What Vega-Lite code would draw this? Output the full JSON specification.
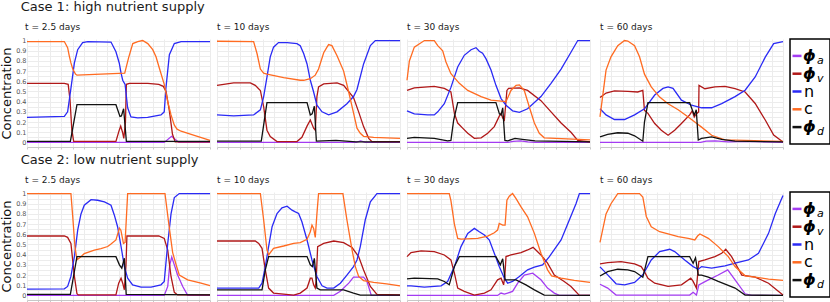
{
"$schema":"https://vega.github.io/schema/vega-lite/v6.json",
"padding":{"left":0,"top":1,"right":0,"bottom":0},
"background":"white",
"config":{"font":"DejaVu Sans","view":{"stroke":null},"title":{"fontWeight":"normal","color":"#1a1a1a"}},
"datasets":{
"leg":[{"s":"a","m":"ϕ","b":"a"},{"s":"v","m":"ϕ","b":"v"},{"s":"n","m":"n","b":""},{"s":"c","m":"c","b":""},{"s":"d","m":"ϕ","b":"d"}],
"d":[
{"p":1,"s":"a","x":0,"y":0},{"p":1,"s":"a","x":75,"y":0},{"p":1,"s":"a","x":79,"y":0.06},{"p":1,"s":"a","x":83,"y":0},{"p":1,"s":"a","x":100,"y":0},
{"p":1,"s":"v","x":0,"y":0.58},{"p":1,"s":"v","x":20.4,"y":0.58},{"p":1,"s":"v","x":22.5,"y":0.57},{"p":1,"s":"v","x":23.5,"y":0.42},{"p":1,"s":"v","x":24.5,"y":0.12},{"p":1,"s":"v","x":25.5,"y":0.01},{"p":1,"s":"v","x":48.6,"y":0.01},{"p":1,"s":"v","x":50.4,"y":0.12},{"p":1,"s":"v","x":51.2,"y":0.16},{"p":1,"s":"v","x":52.2,"y":0.1},{"p":1,"s":"v","x":52.9,"y":0.04},{"p":1,"s":"v","x":53.8,"y":0.2},{"p":1,"s":"v","x":54.3,"y":0.57},{"p":1,"s":"v","x":56,"y":0.58},{"p":1,"s":"v","x":66,"y":0.58},{"p":1,"s":"v","x":72,"y":0.57},{"p":1,"s":"v","x":74.5,"y":0.55},{"p":1,"s":"v","x":76,"y":0.5},{"p":1,"s":"v","x":77.8,"y":0.31},{"p":1,"s":"v","x":79.5,"y":0.08},{"p":1,"s":"v","x":81,"y":0.005},{"p":1,"s":"v","x":100,"y":0.005},
{"p":1,"s":"n","x":0,"y":0.245},{"p":1,"s":"n","x":20.4,"y":0.255},{"p":1,"s":"n","x":22.2,"y":0.3},{"p":1,"s":"n","x":24,"y":0.53},{"p":1,"s":"n","x":25.9,"y":0.78},{"p":1,"s":"n","x":27.7,"y":0.91},{"p":1,"s":"n","x":30.4,"y":0.98},{"p":1,"s":"n","x":33.2,"y":0.99},{"p":1,"s":"n","x":45.9,"y":0.985},{"p":1,"s":"n","x":48.6,"y":0.89},{"p":1,"s":"n","x":50.4,"y":0.78},{"p":1,"s":"n","x":51.4,"y":0.68},{"p":1,"s":"n","x":52.3,"y":0.61},{"p":1,"s":"n","x":53.6,"y":0.57},{"p":1,"s":"n","x":55,"y":0.34},{"p":1,"s":"n","x":56.8,"y":0.25},{"p":1,"s":"n","x":60.5,"y":0.24},{"p":1,"s":"n","x":65.9,"y":0.245},{"p":1,"s":"n","x":73.2,"y":0.27},{"p":1,"s":"n","x":75,"y":0.3},{"p":1,"s":"n","x":75.9,"y":0.53},{"p":1,"s":"n","x":77.8,"y":0.86},{"p":1,"s":"n","x":80.5,"y":0.97},{"p":1,"s":"n","x":84.2,"y":0.99},{"p":1,"s":"n","x":100,"y":0.99},
{"p":1,"s":"c","x":0,"y":0.99},{"p":1,"s":"c","x":20.4,"y":0.99},{"p":1,"s":"c","x":22.2,"y":0.93},{"p":1,"s":"c","x":23.1,"y":0.85},{"p":1,"s":"c","x":24,"y":0.78},{"p":1,"s":"c","x":25,"y":0.72},{"p":1,"s":"c","x":26.5,"y":0.67},{"p":1,"s":"c","x":27.3,"y":0.66},{"p":1,"s":"c","x":53.4,"y":0.68},{"p":1,"s":"c","x":55.5,"y":0.83},{"p":1,"s":"c","x":57.8,"y":0.97},{"p":1,"s":"c","x":60.5,"y":0.99},{"p":1,"s":"c","x":63.2,"y":1},{"p":1,"s":"c","x":66,"y":0.97},{"p":1,"s":"c","x":68.7,"y":0.91},{"p":1,"s":"c","x":70.5,"y":0.84},{"p":1,"s":"c","x":72.3,"y":0.73},{"p":1,"s":"c","x":75,"y":0.57},{"p":1,"s":"c","x":76.9,"y":0.4},{"p":1,"s":"c","x":78.7,"y":0.27},{"p":1,"s":"c","x":80.5,"y":0.17},{"p":1,"s":"c","x":82,"y":0.13},{"p":1,"s":"c","x":84.2,"y":0.11},{"p":1,"s":"c","x":91.4,"y":0.07},{"p":1,"s":"c","x":100,"y":0.02},
{"p":1,"s":"d","x":0,"y":0.01},{"p":1,"s":"d","x":23.7,"y":0.01},{"p":1,"s":"d","x":27.3,"y":0.37},{"p":1,"s":"d","x":48.6,"y":0.37},{"p":1,"s":"d","x":50.8,"y":0.255},{"p":1,"s":"d","x":51.6,"y":0.26},{"p":1,"s":"d","x":52.8,"y":0.33},{"p":1,"s":"d","x":54.3,"y":0.01},{"p":1,"s":"d","x":100,"y":0.01},

{"p":2,"s":"a","x":0,"y":0},{"p":2,"s":"a","x":76,"y":0},{"p":2,"s":"a","x":78.5,"y":0.015},{"p":2,"s":"a","x":81,"y":0},{"p":2,"s":"a","x":100,"y":0},
{"p":2,"s":"v","x":0,"y":0.56},{"p":2,"s":"v","x":9.1,"y":0.585},{"p":2,"s":"v","x":18.2,"y":0.585},{"p":2,"s":"v","x":20.9,"y":0.56},{"p":2,"s":"v","x":23.7,"y":0.51},{"p":2,"s":"v","x":25.5,"y":0.35},{"p":2,"s":"v","x":27.3,"y":0.12},{"p":2,"s":"v","x":29.1,"y":0.057},{"p":2,"s":"v","x":32.8,"y":0.008},{"p":2,"s":"v","x":43.7,"y":0.008},{"p":2,"s":"v","x":46.4,"y":0.05},{"p":2,"s":"v","x":49.2,"y":0.16},{"p":2,"s":"v","x":51,"y":0.22},{"p":2,"s":"v","x":52.8,"y":0.14},{"p":2,"s":"v","x":53.7,"y":0.12},{"p":2,"s":"v","x":54.6,"y":0.45},{"p":2,"s":"v","x":55.5,"y":0.545},{"p":2,"s":"v","x":58.3,"y":0.575},{"p":2,"s":"v","x":65.6,"y":0.585},{"p":2,"s":"v","x":69.2,"y":0.56},{"p":2,"s":"v","x":74.6,"y":0.44},{"p":2,"s":"v","x":77.4,"y":0.3},{"p":2,"s":"v","x":80.1,"y":0.155},{"p":2,"s":"v","x":82.9,"y":0.04},{"p":2,"s":"v","x":84.7,"y":0.008},{"p":2,"s":"v","x":100,"y":0.008},
{"p":2,"s":"n","x":0,"y":0.27},{"p":2,"s":"n","x":9.1,"y":0.26},{"p":2,"s":"n","x":20,"y":0.27},{"p":2,"s":"n","x":23.7,"y":0.32},{"p":2,"s":"n","x":25.5,"y":0.45},{"p":2,"s":"n","x":27.3,"y":0.64},{"p":2,"s":"n","x":29.1,"y":0.84},{"p":2,"s":"n","x":30.9,"y":0.935},{"p":2,"s":"n","x":33.6,"y":0.98},{"p":2,"s":"n","x":38.3,"y":0.98},{"p":2,"s":"n","x":43.7,"y":0.97},{"p":2,"s":"n","x":45.5,"y":0.95},{"p":2,"s":"n","x":47.4,"y":0.87},{"p":2,"s":"n","x":49.2,"y":0.77},{"p":2,"s":"n","x":51,"y":0.61},{"p":2,"s":"n","x":52.8,"y":0.495},{"p":2,"s":"n","x":54.6,"y":0.365},{"p":2,"s":"n","x":57.4,"y":0.3},{"p":2,"s":"n","x":61,"y":0.27},{"p":2,"s":"n","x":65.6,"y":0.3},{"p":2,"s":"n","x":71,"y":0.38},{"p":2,"s":"n","x":74.6,"y":0.45},{"p":2,"s":"n","x":76.5,"y":0.52},{"p":2,"s":"n","x":80.1,"y":0.77},{"p":2,"s":"n","x":83.8,"y":0.95},{"p":2,"s":"n","x":86.5,"y":1},{"p":2,"s":"n","x":100,"y":1},
{"p":2,"s":"c","x":0,"y":0.993},{"p":2,"s":"c","x":20,"y":0.99},{"p":2,"s":"c","x":21.9,"y":0.87},{"p":2,"s":"c","x":23.7,"y":0.72},{"p":2,"s":"c","x":25.5,"y":0.68},{"p":2,"s":"c","x":27.3,"y":0.67},{"p":2,"s":"c","x":36.4,"y":0.635},{"p":2,"s":"c","x":45.5,"y":0.61},{"p":2,"s":"c","x":47.4,"y":0.61},{"p":2,"s":"c","x":51,"y":0.625},{"p":2,"s":"c","x":53.7,"y":0.66},{"p":2,"s":"c","x":55.5,"y":0.72},{"p":2,"s":"c","x":58.3,"y":0.88},{"p":2,"s":"c","x":60.1,"y":0.935},{"p":2,"s":"c","x":61,"y":0.96},{"p":2,"s":"c","x":62.8,"y":0.95},{"p":2,"s":"c","x":65.6,"y":0.85},{"p":2,"s":"c","x":69.2,"y":0.7},{"p":2,"s":"c","x":71.9,"y":0.5},{"p":2,"s":"c","x":74.6,"y":0.29},{"p":2,"s":"c","x":76.5,"y":0.14},{"p":2,"s":"c","x":78.3,"y":0.09},{"p":2,"s":"c","x":80.1,"y":0.06},{"p":2,"s":"c","x":85.6,"y":0.05},{"p":2,"s":"c","x":100,"y":0.04},
{"p":2,"s":"d","x":0,"y":0.012},{"p":2,"s":"d","x":24.2,"y":0.012},{"p":2,"s":"d","x":27.3,"y":0.39},{"p":2,"s":"d","x":49.2,"y":0.39},{"p":2,"s":"d","x":51,"y":0.27},{"p":2,"s":"d","x":52,"y":0.28},{"p":2,"s":"d","x":53.2,"y":0.355},{"p":2,"s":"d","x":54.3,"y":0.012},{"p":2,"s":"d","x":65,"y":0.02},{"p":2,"s":"d","x":76,"y":0.005},{"p":2,"s":"d","x":100,"y":0.005},

{"p":3,"s":"a","x":0,"y":0},{"p":3,"s":"a","x":55,"y":0},{"p":3,"s":"a","x":58,"y":0.01},{"p":3,"s":"a","x":62,"y":0.015},{"p":3,"s":"a","x":66,"y":0.005},{"p":3,"s":"a","x":70,"y":0},{"p":3,"s":"a","x":100,"y":0},
{"p":3,"s":"v","x":0,"y":0.51},{"p":3,"s":"v","x":4,"y":0.535},{"p":3,"s":"v","x":14.9,"y":0.55},{"p":3,"s":"v","x":20.4,"y":0.53},{"p":3,"s":"v","x":24,"y":0.495},{"p":3,"s":"v","x":25.9,"y":0.285},{"p":3,"s":"v","x":27.7,"y":0.19},{"p":3,"s":"v","x":30.4,"y":0.14},{"p":3,"s":"v","x":33.2,"y":0.09},{"p":3,"s":"v","x":36.8,"y":0.04},{"p":3,"s":"v","x":40.5,"y":0.045},{"p":3,"s":"v","x":44.1,"y":0.09},{"p":3,"s":"v","x":47.7,"y":0.155},{"p":3,"s":"v","x":50.5,"y":0.26},{"p":3,"s":"v","x":51.4,"y":0.285},{"p":3,"s":"v","x":52.3,"y":0.24},{"p":3,"s":"v","x":53.2,"y":0.22},{"p":3,"s":"v","x":54.6,"y":0.51},{"p":3,"s":"v","x":55.5,"y":0.53},{"p":3,"s":"v","x":61.4,"y":0.535},{"p":3,"s":"v","x":65.9,"y":0.51},{"p":3,"s":"v","x":73.2,"y":0.41},{"p":3,"s":"v","x":78.7,"y":0.3},{"p":3,"s":"v","x":84.2,"y":0.19},{"p":3,"s":"v","x":89.6,"y":0.1},{"p":3,"s":"v","x":93.3,"y":0.02},{"p":3,"s":"v","x":100,"y":0.005},
{"p":3,"s":"n","x":0,"y":0.31},{"p":3,"s":"n","x":4,"y":0.28},{"p":3,"s":"n","x":11.3,"y":0.27},{"p":3,"s":"n","x":14.9,"y":0.27},{"p":3,"s":"n","x":16.8,"y":0.3},{"p":3,"s":"n","x":20.4,"y":0.38},{"p":3,"s":"n","x":24,"y":0.54},{"p":3,"s":"n","x":27.7,"y":0.74},{"p":3,"s":"n","x":31.3,"y":0.855},{"p":3,"s":"n","x":35,"y":0.91},{"p":3,"s":"n","x":37.7,"y":0.93},{"p":3,"s":"n","x":39.5,"y":0.895},{"p":3,"s":"n","x":41.3,"y":0.875},{"p":3,"s":"n","x":43.2,"y":0.82},{"p":3,"s":"n","x":45.9,"y":0.71},{"p":3,"s":"n","x":48.6,"y":0.56},{"p":3,"s":"n","x":51.4,"y":0.43},{"p":3,"s":"n","x":54.1,"y":0.365},{"p":3,"s":"n","x":57.7,"y":0.31},{"p":3,"s":"n","x":61.4,"y":0.295},{"p":3,"s":"n","x":65.9,"y":0.33},{"p":3,"s":"n","x":73.2,"y":0.45},{"p":3,"s":"n","x":78.7,"y":0.58},{"p":3,"s":"n","x":84.2,"y":0.72},{"p":3,"s":"n","x":89.6,"y":0.885},{"p":3,"s":"n","x":93.3,"y":1},{"p":3,"s":"n","x":100,"y":1},
{"p":3,"s":"c","x":0,"y":0.61},{"p":3,"s":"c","x":1.3,"y":0.8},{"p":3,"s":"c","x":4,"y":0.935},{"p":3,"s":"c","x":9.5,"y":1},{"p":3,"s":"c","x":14.9,"y":1},{"p":3,"s":"c","x":16.8,"y":0.95},{"p":3,"s":"c","x":19.5,"y":0.9},{"p":3,"s":"c","x":21.3,"y":0.79},{"p":3,"s":"c","x":24,"y":0.675},{"p":3,"s":"c","x":28.6,"y":0.58},{"p":3,"s":"c","x":33.2,"y":0.51},{"p":3,"s":"c","x":40.5,"y":0.45},{"p":3,"s":"c","x":45.9,"y":0.415},{"p":3,"s":"c","x":51.4,"y":0.405},{"p":3,"s":"c","x":54.1,"y":0.4},{"p":3,"s":"c","x":56.8,"y":0.51},{"p":3,"s":"c","x":59.6,"y":0.56},{"p":3,"s":"c","x":61.4,"y":0.565},{"p":3,"s":"c","x":64.1,"y":0.51},{"p":3,"s":"c","x":66.8,"y":0.35},{"p":3,"s":"c","x":69.6,"y":0.19},{"p":3,"s":"c","x":72.3,"y":0.09},{"p":3,"s":"c","x":75,"y":0.045},{"p":3,"s":"c","x":100,"y":0.025},
{"p":3,"s":"d","x":0,"y":0.04},{"p":3,"s":"d","x":4,"y":0.05},{"p":3,"s":"d","x":14.9,"y":0.04},{"p":3,"s":"d","x":22.2,"y":0.015},{"p":3,"s":"d","x":24,"y":0.02},{"p":3,"s":"d","x":25.5,"y":0.22},{"p":3,"s":"d","x":27.7,"y":0.39},{"p":3,"s":"d","x":48.6,"y":0.39},{"p":3,"s":"d","x":50.5,"y":0.28},{"p":3,"s":"d","x":51.4,"y":0.27},{"p":3,"s":"d","x":52.3,"y":0.34},{"p":3,"s":"d","x":53.5,"y":0.02},{"p":3,"s":"d","x":55,"y":0.015},{"p":3,"s":"d","x":59,"y":0.04},{"p":3,"s":"d","x":63,"y":0.03},{"p":3,"s":"d","x":70,"y":0.015},{"p":3,"s":"d","x":100,"y":0.005},

{"p":4,"s":"a","x":0,"y":0},{"p":4,"s":"a","x":55,"y":0},{"p":4,"s":"a","x":58,"y":0.012},{"p":4,"s":"a","x":63,"y":0.015},{"p":4,"s":"a","x":70,"y":0.005},{"p":4,"s":"a","x":80,"y":0.01},{"p":4,"s":"a","x":100,"y":0},
{"p":4,"s":"v","x":0,"y":0.44},{"p":4,"s":"v","x":3.3,"y":0.485},{"p":4,"s":"v","x":7.9,"y":0.505},{"p":4,"s":"v","x":15.2,"y":0.5},{"p":4,"s":"v","x":20.6,"y":0.495},{"p":4,"s":"v","x":23.4,"y":0.51},{"p":4,"s":"v","x":24.3,"y":0.315},{"p":4,"s":"v","x":26.2,"y":0.285},{"p":4,"s":"v","x":29.9,"y":0.185},{"p":4,"s":"v","x":33.5,"y":0.12},{"p":4,"s":"v","x":37.2,"y":0.07},{"p":4,"s":"v","x":40.8,"y":0.12},{"p":4,"s":"v","x":44.5,"y":0.185},{"p":4,"s":"v","x":49,"y":0.27},{"p":4,"s":"v","x":50.4,"y":0.31},{"p":4,"s":"v","x":51.5,"y":0.25},{"p":4,"s":"v","x":52.6,"y":0.28},{"p":4,"s":"v","x":53.9,"y":0.3},{"p":4,"s":"v","x":54.1,"y":0.56},{"p":4,"s":"v","x":57.3,"y":0.527},{"p":4,"s":"v","x":62.8,"y":0.545},{"p":4,"s":"v","x":68.3,"y":0.55},{"p":4,"s":"v","x":73.8,"y":0.527},{"p":4,"s":"v","x":79.3,"y":0.495},{"p":4,"s":"v","x":84.8,"y":0.382},{"p":4,"s":"v","x":90.3,"y":0.22},{"p":4,"s":"v","x":94.9,"y":0.073},{"p":4,"s":"v","x":100,"y":0.005},
{"p":4,"s":"n","x":0,"y":0.33},{"p":4,"s":"n","x":3.3,"y":0.27},{"p":4,"s":"n","x":7.9,"y":0.225},{"p":4,"s":"n","x":13.4,"y":0.225},{"p":4,"s":"n","x":18.9,"y":0.27},{"p":4,"s":"n","x":24.3,"y":0.33},{"p":4,"s":"n","x":29.9,"y":0.465},{"p":4,"s":"n","x":34.4,"y":0.53},{"p":4,"s":"n","x":37.2,"y":0.545},{"p":4,"s":"n","x":39.9,"y":0.53},{"p":4,"s":"n","x":44.5,"y":0.415},{"p":4,"s":"n","x":50,"y":0.365},{"p":4,"s":"n","x":55.5,"y":0.34},{"p":4,"s":"n","x":61,"y":0.34},{"p":4,"s":"n","x":66.5,"y":0.38},{"p":4,"s":"n","x":73.8,"y":0.45},{"p":4,"s":"n","x":79.3,"y":0.512},{"p":4,"s":"n","x":84.8,"y":0.642},{"p":4,"s":"n","x":90.3,"y":0.837},{"p":4,"s":"n","x":94.9,"y":0.97},{"p":4,"s":"n","x":100,"y":0.99},
{"p":4,"s":"c","x":0,"y":0.25},{"p":4,"s":"c","x":3.3,"y":0.71},{"p":4,"s":"c","x":6,"y":0.84},{"p":4,"s":"c","x":9.7,"y":0.95},{"p":4,"s":"c","x":13.4,"y":1},{"p":4,"s":"c","x":15.2,"y":0.995},{"p":4,"s":"c","x":18.9,"y":0.95},{"p":4,"s":"c","x":21.6,"y":0.84},{"p":4,"s":"c","x":24.3,"y":0.67},{"p":4,"s":"c","x":28,"y":0.545},{"p":4,"s":"c","x":32.6,"y":0.445},{"p":4,"s":"c","x":37.2,"y":0.38},{"p":4,"s":"c","x":42.7,"y":0.32},{"p":4,"s":"c","x":48.2,"y":0.25},{"p":4,"s":"c","x":51.8,"y":0.2},{"p":4,"s":"c","x":55.5,"y":0.15},{"p":4,"s":"c","x":61,"y":0.07},{"p":4,"s":"c","x":68.3,"y":0.025},{"p":4,"s":"c","x":100,"y":0.01},
{"p":4,"s":"d","x":0,"y":0.055},{"p":4,"s":"d","x":4.2,"y":0.08},{"p":4,"s":"d","x":9.7,"y":0.095},{"p":4,"s":"d","x":15.2,"y":0.09},{"p":4,"s":"d","x":18.9,"y":0.065},{"p":4,"s":"d","x":23.4,"y":0.012},{"p":4,"s":"d","x":24.3,"y":0.2},{"p":4,"s":"d","x":26.2,"y":0.39},{"p":4,"s":"d","x":49,"y":0.39},{"p":4,"s":"d","x":50.4,"y":0.32},{"p":4,"s":"d","x":51.5,"y":0.27},{"p":4,"s":"d","x":52.6,"y":0.32},{"p":4,"s":"d","x":53.7,"y":0.024},{"p":4,"s":"d","x":55.5,"y":0.04},{"p":4,"s":"d","x":61,"y":0.055},{"p":4,"s":"d","x":66.5,"y":0.03},{"p":4,"s":"d","x":73.8,"y":0.012},{"p":4,"s":"d","x":100,"y":0.005},

{"p":5,"s":"a","x":0,"y":0},{"p":5,"s":"a","x":75,"y":0},{"p":5,"s":"a","x":76.9,"y":0.088},{"p":5,"s":"a","x":78,"y":0.3},{"p":5,"s":"a","x":79.1,"y":0.376},{"p":5,"s":"a","x":80.5,"y":0.3},{"p":5,"s":"a","x":82.3,"y":0.2},{"p":5,"s":"a","x":85.1,"y":0.088},{"p":5,"s":"a","x":87.8,"y":0},{"p":5,"s":"a","x":100,"y":0},
{"p":5,"s":"v","x":0,"y":0.583},{"p":5,"s":"v","x":20.4,"y":0.583},{"p":5,"s":"v","x":22.2,"y":0.57},{"p":5,"s":"v","x":24,"y":0.51},{"p":5,"s":"v","x":25.9,"y":0.186},{"p":5,"s":"v","x":27.3,"y":0.016},{"p":5,"s":"v","x":28,"y":0.005},{"p":5,"s":"v","x":48.6,"y":0.005},{"p":5,"s":"v","x":50.1,"y":0.12},{"p":5,"s":"v","x":51.4,"y":0.169},{"p":5,"s":"v","x":52.3,"y":0.12},{"p":5,"s":"v","x":53.2,"y":0.055},{"p":5,"s":"v","x":54.1,"y":0.3},{"p":5,"s":"v","x":54.6,"y":0.583},{"p":5,"s":"v","x":72,"y":0.583},{"p":5,"s":"v","x":75,"y":0.56},{"p":5,"s":"v","x":76.9,"y":0.445},{"p":5,"s":"v","x":78.7,"y":0.186},{"p":5,"s":"v","x":80.5,"y":0.03},{"p":5,"s":"v","x":82.3,"y":0.005},{"p":5,"s":"v","x":100,"y":0.005},
{"p":5,"s":"n","x":0,"y":0.062},{"p":5,"s":"n","x":20.4,"y":0.065},{"p":5,"s":"n","x":22.2,"y":0.088},{"p":5,"s":"n","x":24,"y":0.186},{"p":5,"s":"n","x":25.9,"y":0.38},{"p":5,"s":"n","x":27.7,"y":0.64},{"p":5,"s":"n","x":29.5,"y":0.8},{"p":5,"s":"n","x":31.3,"y":0.885},{"p":5,"s":"n","x":35,"y":0.94},{"p":5,"s":"n","x":38.6,"y":0.934},{"p":5,"s":"n","x":42.3,"y":0.918},{"p":5,"s":"n","x":45.9,"y":0.885},{"p":5,"s":"n","x":47.7,"y":0.79},{"p":5,"s":"n","x":49.5,"y":0.674},{"p":5,"s":"n","x":51.4,"y":0.48},{"p":5,"s":"n","x":53.2,"y":0.283},{"p":5,"s":"n","x":55,"y":0.169},{"p":5,"s":"n","x":57.7,"y":0.104},{"p":5,"s":"n","x":62.3,"y":0.081},{"p":5,"s":"n","x":67.8,"y":0.081},{"p":5,"s":"n","x":73.2,"y":0.104},{"p":5,"s":"n","x":75,"y":0.137},{"p":5,"s":"n","x":76.9,"y":0.51},{"p":5,"s":"n","x":78.7,"y":0.8},{"p":5,"s":"n","x":80.5,"y":0.96},{"p":5,"s":"n","x":83.2,"y":1},{"p":5,"s":"n","x":100,"y":1},
{"p":5,"s":"c","x":0,"y":1},{"p":5,"s":"c","x":24,"y":1},{"p":5,"s":"c","x":25,"y":0.77},{"p":5,"s":"c","x":26.2,"y":0.48},{"p":5,"s":"c","x":27.3,"y":0.35},{"p":5,"s":"c","x":29.5,"y":0.38},{"p":5,"s":"c","x":31.3,"y":0.41},{"p":5,"s":"c","x":36.8,"y":0.445},{"p":5,"s":"c","x":40.4,"y":0.46},{"p":5,"s":"c","x":44.1,"y":0.48},{"p":5,"s":"c","x":45.9,"y":0.505},{"p":5,"s":"c","x":48.6,"y":0.545},{"p":5,"s":"c","x":50.5,"y":0.66},{"p":5,"s":"c","x":51.3,"y":0.64},{"p":5,"s":"c","x":52.7,"y":0.51},{"p":5,"s":"c","x":53.6,"y":0.52},{"p":5,"s":"c","x":55,"y":1},{"p":5,"s":"c","x":75.4,"y":1},{"p":5,"s":"c","x":77.5,"y":0.7},{"p":5,"s":"c","x":79.6,"y":0.42},{"p":5,"s":"c","x":81.5,"y":0.3},{"p":5,"s":"c","x":83.2,"y":0.2},{"p":5,"s":"c","x":87.8,"y":0.153},{"p":5,"s":"c","x":95.1,"y":0.12},{"p":5,"s":"c","x":100,"y":0.095},
{"p":5,"s":"d","x":0,"y":0.01},{"p":5,"s":"d","x":23.7,"y":0.01},{"p":5,"s":"d","x":27.3,"y":0.38},{"p":5,"s":"d","x":48.6,"y":0.38},{"p":5,"s":"d","x":50.5,"y":0.3},{"p":5,"s":"d","x":51.8,"y":0.267},{"p":5,"s":"d","x":53.2,"y":0.365},{"p":5,"s":"d","x":54.2,"y":0.01},{"p":5,"s":"d","x":100,"y":0.005},

{"p":6,"s":"a","x":0,"y":0},{"p":6,"s":"a","x":63.8,"y":0},{"p":6,"s":"a","x":67.4,"y":0.04},{"p":6,"s":"a","x":72,"y":0.12},{"p":6,"s":"a","x":74.6,"y":0.18},{"p":6,"s":"a","x":80.1,"y":0.18},{"p":6,"s":"a","x":82,"y":0.137},{"p":6,"s":"a","x":84.3,"y":0},{"p":6,"s":"a","x":100,"y":0},
{"p":6,"s":"v","x":0,"y":0.534},{"p":6,"s":"v","x":20.9,"y":0.534},{"p":6,"s":"v","x":22.8,"y":0.511},{"p":6,"s":"v","x":24.6,"y":0.462},{"p":6,"s":"v","x":26.4,"y":0.25},{"p":6,"s":"v","x":28.2,"y":0.072},{"p":6,"s":"v","x":30.9,"y":0.023},{"p":6,"s":"v","x":41.9,"y":0.003},{"p":6,"s":"v","x":45.5,"y":0.023},{"p":6,"s":"v","x":49.2,"y":0.072},{"p":6,"s":"v","x":51,"y":0.169},{"p":6,"s":"v","x":51.9,"y":0.169},{"p":6,"s":"v","x":52.8,"y":0.104},{"p":6,"s":"v","x":53.7,"y":0.072},{"p":6,"s":"v","x":54.2,"y":0.15},{"p":6,"s":"v","x":55,"y":0.479},{"p":6,"s":"v","x":58.3,"y":0.511},{"p":6,"s":"v","x":63.8,"y":0.534},{"p":6,"s":"v","x":69.2,"y":0.518},{"p":6,"s":"v","x":73.8,"y":0.47},{"p":6,"s":"v","x":77.4,"y":0.381},{"p":6,"s":"v","x":80.1,"y":0.25},{"p":6,"s":"v","x":83.8,"y":0.088},{"p":6,"s":"v","x":87.4,"y":0.01},{"p":6,"s":"v","x":100,"y":0.005},
{"p":6,"s":"n","x":0,"y":0.072},{"p":6,"s":"n","x":22.8,"y":0.072},{"p":6,"s":"n","x":24.6,"y":0.12},{"p":6,"s":"n","x":26.4,"y":0.283},{"p":6,"s":"n","x":28.2,"y":0.479},{"p":6,"s":"n","x":30.1,"y":0.674},{"p":6,"s":"n","x":32.8,"y":0.804},{"p":6,"s":"n","x":35.5,"y":0.86},{"p":6,"s":"n","x":38.3,"y":0.876},{"p":6,"s":"n","x":41,"y":0.837},{"p":6,"s":"n","x":42.8,"y":0.82},{"p":6,"s":"n","x":44.6,"y":0.804},{"p":6,"s":"n","x":46.4,"y":0.723},{"p":6,"s":"n","x":49.2,"y":0.544},{"p":6,"s":"n","x":51.9,"y":0.348},{"p":6,"s":"n","x":54.6,"y":0.186},{"p":6,"s":"n","x":57.4,"y":0.094},{"p":6,"s":"n","x":60.1,"y":0.072},{"p":6,"s":"n","x":63.8,"y":0.072},{"p":6,"s":"n","x":67.4,"y":0.12},{"p":6,"s":"n","x":71,"y":0.2},{"p":6,"s":"n","x":74.6,"y":0.283},{"p":6,"s":"n","x":76.5,"y":0.348},{"p":6,"s":"n","x":78.3,"y":0.479},{"p":6,"s":"n","x":81,"y":0.74},{"p":6,"s":"n","x":83.8,"y":0.918},{"p":6,"s":"n","x":87.4,"y":1},{"p":6,"s":"n","x":100,"y":1},
{"p":6,"s":"c","x":0,"y":1},{"p":6,"s":"c","x":23.7,"y":1},{"p":6,"s":"c","x":25.5,"y":0.74},{"p":6,"s":"c","x":27.3,"y":0.446},{"p":6,"s":"c","x":28.2,"y":0.397},{"p":6,"s":"c","x":30.9,"y":0.462},{"p":6,"s":"c","x":36.4,"y":0.485},{"p":6,"s":"c","x":41.9,"y":0.511},{"p":6,"s":"c","x":45.5,"y":0.518},{"p":6,"s":"c","x":49.2,"y":0.55},{"p":6,"s":"c","x":51,"y":0.625},{"p":6,"s":"c","x":51.9,"y":0.69},{"p":6,"s":"c","x":52.8,"y":0.658},{"p":6,"s":"c","x":53.7,"y":0.57},{"p":6,"s":"c","x":54.6,"y":0.8},{"p":6,"s":"c","x":55.5,"y":1},{"p":6,"s":"c","x":68.8,"y":1},{"p":6,"s":"c","x":71,"y":0.74},{"p":6,"s":"c","x":73.8,"y":0.446},{"p":6,"s":"c","x":75.6,"y":0.283},{"p":6,"s":"c","x":77.4,"y":0.186},{"p":6,"s":"c","x":80.1,"y":0.146},{"p":6,"s":"c","x":85.6,"y":0.127},{"p":6,"s":"c","x":92.7,"y":0.114},{"p":6,"s":"c","x":100,"y":0.094},
{"p":6,"s":"d","x":0,"y":0.055},{"p":6,"s":"d","x":24.6,"y":0.055},{"p":6,"s":"d","x":26.4,"y":0.25},{"p":6,"s":"d","x":28.2,"y":0.381},{"p":6,"s":"d","x":49.2,"y":0.381},{"p":6,"s":"d","x":51,"y":0.3},{"p":6,"s":"d","x":52.1,"y":0.283},{"p":6,"s":"d","x":53.2,"y":0.363},{"p":6,"s":"d","x":54.6,"y":0.072},{"p":6,"s":"d","x":56.4,"y":0.055},{"p":6,"s":"d","x":69.2,"y":0.055},{"p":6,"s":"d","x":74.6,"y":0.023},{"p":6,"s":"d","x":78.3,"y":0.003},{"p":6,"s":"d","x":100,"y":0.003},

{"p":7,"s":"a","x":0,"y":0},{"p":7,"s":"a","x":49.5,"y":0},{"p":7,"s":"a","x":51.4,"y":0.023},{"p":7,"s":"a","x":53.2,"y":0.013},{"p":7,"s":"a","x":55,"y":0.023},{"p":7,"s":"a","x":57.7,"y":0.039},{"p":7,"s":"a","x":60.5,"y":0.12},{"p":7,"s":"a","x":64.1,"y":0.2},{"p":7,"s":"a","x":68.7,"y":0.218},{"p":7,"s":"a","x":73.2,"y":0.153},{"p":7,"s":"a","x":76.8,"y":0.072},{"p":7,"s":"a","x":80.5,"y":0.023},{"p":7,"s":"a","x":83.2,"y":0},{"p":7,"s":"a","x":100,"y":0},
{"p":7,"s":"v","x":0,"y":0.381},{"p":7,"s":"v","x":2.2,"y":0.42},{"p":7,"s":"v","x":7.7,"y":0.437},{"p":7,"s":"v","x":14.9,"y":0.43},{"p":7,"s":"v","x":20.4,"y":0.397},{"p":7,"s":"v","x":24,"y":0.348},{"p":7,"s":"v","x":25.9,"y":0.218},{"p":7,"s":"v","x":27.7,"y":0.072},{"p":7,"s":"v","x":31.3,"y":0.039},{"p":7,"s":"v","x":36.8,"y":0.003},{"p":7,"s":"v","x":42.3,"y":0.023},{"p":7,"s":"v","x":45.9,"y":0.055},{"p":7,"s":"v","x":49.5,"y":0.153},{"p":7,"s":"v","x":51.4,"y":0.169},{"p":7,"s":"v","x":52.8,"y":0.104},{"p":7,"s":"v","x":53.5,"y":0.2},{"p":7,"s":"v","x":54.1,"y":0.381},{"p":7,"s":"v","x":56.8,"y":0.397},{"p":7,"s":"v","x":62.3,"y":0.42},{"p":7,"s":"v","x":65.9,"y":0.446},{"p":7,"s":"v","x":68.9,"y":0.472},{"p":7,"s":"v","x":73.2,"y":0.397},{"p":7,"s":"v","x":76.8,"y":0.316},{"p":7,"s":"v","x":80.5,"y":0.2},{"p":7,"s":"v","x":85.9,"y":0.137},{"p":7,"s":"v","x":89.6,"y":0.088},{"p":7,"s":"v","x":94.2,"y":0},{"p":7,"s":"v","x":100,"y":0},
{"p":7,"s":"n","x":0,"y":0.094},{"p":7,"s":"n","x":2.2,"y":0.094},{"p":7,"s":"n","x":9.5,"y":0.081},{"p":7,"s":"n","x":18.6,"y":0.094},{"p":7,"s":"n","x":22.2,"y":0.137},{"p":7,"s":"n","x":25.9,"y":0.283},{"p":7,"s":"n","x":29.5,"y":0.479},{"p":7,"s":"n","x":33.2,"y":0.609},{"p":7,"s":"n","x":36.8,"y":0.658},{"p":7,"s":"n","x":39.5,"y":0.625},{"p":7,"s":"n","x":42.3,"y":0.593},{"p":7,"s":"n","x":45,"y":0.544},{"p":7,"s":"n","x":47.7,"y":0.414},{"p":7,"s":"n","x":50.4,"y":0.283},{"p":7,"s":"n","x":53.2,"y":0.169},{"p":7,"s":"n","x":55,"y":0.12},{"p":7,"s":"n","x":57.7,"y":0.137},{"p":7,"s":"n","x":61.4,"y":0.186},{"p":7,"s":"n","x":65.9,"y":0.251},{"p":7,"s":"n","x":69.6,"y":0.277},{"p":7,"s":"n","x":74.1,"y":0.3},{"p":7,"s":"n","x":77.8,"y":0.381},{"p":7,"s":"n","x":84.2,"y":0.544},{"p":7,"s":"n","x":88.7,"y":0.74},{"p":7,"s":"n","x":92.4,"y":0.902},{"p":7,"s":"n","x":94.2,"y":1},{"p":7,"s":"n","x":100,"y":1},
{"p":7,"s":"c","x":0,"y":1},{"p":7,"s":"c","x":23.1,"y":1},{"p":7,"s":"c","x":24,"y":0.93},{"p":7,"s":"c","x":25.9,"y":0.7},{"p":7,"s":"c","x":27.7,"y":0.56},{"p":7,"s":"c","x":29.5,"y":0.553},{"p":7,"s":"c","x":38.6,"y":0.56},{"p":7,"s":"c","x":44.1,"y":0.583},{"p":7,"s":"c","x":47.7,"y":0.615},{"p":7,"s":"c","x":49.5,"y":0.641},{"p":7,"s":"c","x":50.4,"y":0.706},{"p":7,"s":"c","x":52.3,"y":0.69},{"p":7,"s":"c","x":53.6,"y":0.69},{"p":7,"s":"c","x":54.6,"y":0.934},{"p":7,"s":"c","x":55.9,"y":0.973},{"p":7,"s":"c","x":57.7,"y":1},{"p":7,"s":"c","x":59.6,"y":0.95},{"p":7,"s":"c","x":62.3,"y":0.869},{"p":7,"s":"c","x":65.9,"y":0.771},{"p":7,"s":"c","x":69.6,"y":0.609},{"p":7,"s":"c","x":73.2,"y":0.414},{"p":7,"s":"c","x":76.8,"y":0.251},{"p":7,"s":"c","x":79,"y":0.192},{"p":7,"s":"c","x":84.2,"y":0.169},{"p":7,"s":"c","x":91.4,"y":0.147},{"p":7,"s":"c","x":100,"y":0.127},
{"p":7,"s":"d","x":0,"y":0.163},{"p":7,"s":"d","x":4,"y":0.169},{"p":7,"s":"d","x":16.8,"y":0.163},{"p":7,"s":"d","x":20.4,"y":0.137},{"p":7,"s":"d","x":23.1,"y":0.104},{"p":7,"s":"d","x":25.9,"y":0.283},{"p":7,"s":"d","x":28.6,"y":0.381},{"p":7,"s":"d","x":48.6,"y":0.381},{"p":7,"s":"d","x":51,"y":0.3},{"p":7,"s":"d","x":52.3,"y":0.36},{"p":7,"s":"d","x":53.6,"y":0.153},{"p":7,"s":"d","x":59.6,"y":0.153},{"p":7,"s":"d","x":65,"y":0.104},{"p":7,"s":"d","x":69.6,"y":0.055},{"p":7,"s":"d","x":75,"y":0.003},{"p":7,"s":"d","x":100,"y":0},

{"p":8,"s":"a","x":0,"y":0.11},{"p":8,"s":"a","x":4.2,"y":0.072},{"p":8,"s":"a","x":8.8,"y":0.003},{"p":8,"s":"a","x":49,"y":0.003},{"p":8,"s":"a","x":50.9,"y":0.03},{"p":8,"s":"a","x":52.7,"y":0.003},{"p":8,"s":"a","x":54,"y":0.104},{"p":8,"s":"a","x":59.2,"y":0.153},{"p":8,"s":"a","x":64.6,"y":0.2},{"p":8,"s":"a","x":69.8,"y":0.251},{"p":8,"s":"a","x":73.8,"y":0.153},{"p":8,"s":"a","x":79.3,"y":0.016},{"p":8,"s":"a","x":82.9,"y":0},{"p":8,"s":"a","x":100,"y":0},
{"p":8,"s":"v","x":0,"y":0.31},{"p":8,"s":"v","x":4.2,"y":0.322},{"p":8,"s":"v","x":11.5,"y":0.332},{"p":8,"s":"v","x":18.9,"y":0.309},{"p":8,"s":"v","x":22.5,"y":0.283},{"p":8,"s":"v","x":24.3,"y":0.234},{"p":8,"s":"v","x":26.2,"y":0.169},{"p":8,"s":"v","x":29.9,"y":0.12},{"p":8,"s":"v","x":37.2,"y":0.088},{"p":8,"s":"v","x":44.5,"y":0.104},{"p":8,"s":"v","x":49.6,"y":0.169},{"p":8,"s":"v","x":50.9,"y":0.137},{"p":8,"s":"v","x":52.7,"y":0.072},{"p":8,"s":"v","x":54,"y":0.332},{"p":8,"s":"v","x":57.3,"y":0.348},{"p":8,"s":"v","x":62.8,"y":0.381},{"p":8,"s":"v","x":66.5,"y":0.413},{"p":8,"s":"v","x":68.7,"y":0.453},{"p":8,"s":"v","x":71.9,"y":0.381},{"p":8,"s":"v","x":77.5,"y":0.2},{"p":8,"s":"v","x":84.8,"y":0.179},{"p":8,"s":"v","x":92.1,"y":0.12},{"p":8,"s":"v","x":97.6,"y":0.039},{"p":8,"s":"v","x":100,"y":0.005},
{"p":8,"s":"n","x":0,"y":0.28},{"p":8,"s":"n","x":4.2,"y":0.202},{"p":8,"s":"n","x":8.8,"y":0.114},{"p":8,"s":"n","x":13.4,"y":0.104},{"p":8,"s":"n","x":18.9,"y":0.127},{"p":8,"s":"n","x":23.4,"y":0.202},{"p":8,"s":"n","x":28,"y":0.348},{"p":8,"s":"n","x":32.6,"y":0.43},{"p":8,"s":"n","x":38.1,"y":0.453},{"p":8,"s":"n","x":40.8,"y":0.43},{"p":8,"s":"n","x":46.3,"y":0.348},{"p":8,"s":"n","x":50.9,"y":0.283},{"p":8,"s":"n","x":53.7,"y":0.257},{"p":8,"s":"n","x":55.5,"y":0.283},{"p":8,"s":"n","x":61,"y":0.267},{"p":8,"s":"n","x":68.3,"y":0.29},{"p":8,"s":"n","x":73.8,"y":0.316},{"p":8,"s":"n","x":81.1,"y":0.348},{"p":8,"s":"n","x":86.6,"y":0.413},{"p":8,"s":"n","x":92.1,"y":0.609},{"p":8,"s":"n","x":95.8,"y":0.804},{"p":8,"s":"n","x":100,"y":0.98},
{"p":8,"s":"c","x":0,"y":0.52},{"p":8,"s":"c","x":3.3,"y":0.8},{"p":8,"s":"c","x":6,"y":0.9},{"p":8,"s":"c","x":9.7,"y":1},{"p":8,"s":"c","x":21.6,"y":1},{"p":8,"s":"c","x":23.4,"y":0.966},{"p":8,"s":"c","x":25.3,"y":0.775},{"p":8,"s":"c","x":28,"y":0.674},{"p":8,"s":"c","x":32.6,"y":0.625},{"p":8,"s":"c","x":37.2,"y":0.603},{"p":8,"s":"c","x":42.7,"y":0.576},{"p":8,"s":"c","x":48.2,"y":0.56},{"p":8,"s":"c","x":51.8,"y":0.544},{"p":8,"s":"c","x":53.3,"y":0.583},{"p":8,"s":"c","x":54.6,"y":0.603},{"p":8,"s":"c","x":59.2,"y":0.56},{"p":8,"s":"c","x":64.6,"y":0.479},{"p":8,"s":"c","x":70.1,"y":0.381},{"p":8,"s":"c","x":73.8,"y":0.283},{"p":8,"s":"c","x":79.3,"y":0.192},{"p":8,"s":"c","x":84.8,"y":0.179},{"p":8,"s":"c","x":92.1,"y":0.16},{"p":8,"s":"c","x":100,"y":0.147},
{"p":8,"s":"d","x":0,"y":0.19},{"p":8,"s":"d","x":4.2,"y":0.234},{"p":8,"s":"d","x":9.7,"y":0.257},{"p":8,"s":"d","x":15.2,"y":0.251},{"p":8,"s":"d","x":18.9,"y":0.234},{"p":8,"s":"d","x":23.4,"y":0.179},{"p":8,"s":"d","x":26.2,"y":0.381},{"p":8,"s":"d","x":49,"y":0.381},{"p":8,"s":"d","x":50.9,"y":0.316},{"p":8,"s":"d","x":52.2,"y":0.37},{"p":8,"s":"d","x":53.7,"y":0.2},{"p":8,"s":"d","x":55.5,"y":0.2},{"p":8,"s":"d","x":59.2,"y":0.179},{"p":8,"s":"d","x":64.6,"y":0.137},{"p":8,"s":"d","x":73.8,"y":0.072},{"p":8,"s":"d","x":79.3,"y":0.003},{"p":8,"s":"d","x":100,"y":0}
]},
"spacing":4,
"vconcat":[
{"title":{"text":"Case 1: high nutrient supply","anchor":"start","fontSize":13,"offset":9,"frame":"bounds","dx":20},
 "spacing":0,
 "hconcat":[
  {"spacing":4,"hconcat":[
   {"spacing":1,"hconcat":[
    {"width":183,"height":108,"title":{"text":"t = 2.5 days","anchor":"start","frame":"group","fontSize":9,"offset":5.5,"dx":-2},
     "data":{"name":"d"},"transform":[{"filter":"datum.p == 1"}],
     "mark":{"type":"line","strokeWidth":1.3},
     "encoding":{
      "x":{"field":"x","type":"quantitative","scale":{"domain":[0,100]},"axis":{"title":null,"labels":false,"tickSize":2,"tickColor":"#c8c8c8","domainColor":"#c8c8c8","gridColor":"#ececec","minExtent":0,"maxExtent":3,"values":[0,6.25,12.5,18.75,25,31.25,37.5,43.75,50,56.25,62.5,68.75,75,81.25,87.5,93.75,100]}},
      "y":{"field":"y","type":"quantitative","scale":{"domain":[-0.045,1.015],"nice":false,"zero":false},"axis":{"title":"Concentration","titleFontSize":13,"titleFontWeight":"normal","titleColor":"#111","titlePadding":2,"labelFontSize":6.5,"labelColor":"#555","labelPadding":1,"labelOverlap":false,"labelFlush":false,"ticks":false,"domain":false,"gridColor":"#ececec","values":[0,0.05,0.1,0.15,0.2,0.25,0.3,0.35,0.4,0.45,0.5,0.55,0.6,0.65,0.7,0.75,0.8,0.85,0.9,0.95,1],"labelExpr":"round(datum.value*100) % 10 == 0 ? format(datum.value, '.1~f') : ''"}},
      "color":{"field":"s","type":"nominal","scale":{"domain":["a","v","n","c","d"],"range":["#a43cf2","#b01818","#2a2af5","#ff6b21","#111111"]},"legend":null}}},
    {"width":183,"height":108,"title":{"text":"t = 10 days","anchor":"start","frame":"group","fontSize":9,"offset":5.5},
     "data":{"name":"d"},"transform":[{"filter":"datum.p == 2"}],
     "mark":{"type":"line","strokeWidth":1.3},
     "encoding":{
      "x":{"field":"x","type":"quantitative","scale":{"domain":[0,100]},"axis":{"title":null,"labels":false,"tickSize":2,"tickColor":"#c8c8c8","domainColor":"#c8c8c8","gridColor":"#ececec","minExtent":0,"maxExtent":3,"values":[0,6.25,12.5,18.75,25,31.25,37.5,43.75,50,56.25,62.5,68.75,75,81.25,87.5,93.75,100]}},
      "y":{"field":"y","type":"quantitative","scale":{"domain":[-0.045,1.015],"nice":false,"zero":false},"axis":{"title":null,"labels":false,"ticks":false,"domain":false,"minExtent":0,"maxExtent":0,"gridColor":"#ececec","values":[0,0.05,0.1,0.15,0.2,0.25,0.3,0.35,0.4,0.45,0.5,0.55,0.6,0.65,0.7,0.75,0.8,0.85,0.9,0.95,1]}},
      "color":{"field":"s","type":"nominal","scale":{"domain":["a","v","n","c","d"],"range":["#a43cf2","#b01818","#2a2af5","#ff6b21","#111111"]},"legend":null}}},
    {"width":183,"height":108,"title":{"text":"t = 30 days","anchor":"start","frame":"group","fontSize":9,"offset":5.5},
     "data":{"name":"d"},"transform":[{"filter":"datum.p == 3"}],
     "mark":{"type":"line","strokeWidth":1.3},
     "encoding":{
      "x":{"field":"x","type":"quantitative","scale":{"domain":[0,100]},"axis":{"title":null,"labels":false,"tickSize":2,"tickColor":"#c8c8c8","domainColor":"#c8c8c8","gridColor":"#ececec","minExtent":0,"maxExtent":3,"values":[0,6.25,12.5,18.75,25,31.25,37.5,43.75,50,56.25,62.5,68.75,75,81.25,87.5,93.75,100]}},
      "y":{"field":"y","type":"quantitative","scale":{"domain":[-0.045,1.015],"nice":false,"zero":false},"axis":{"title":null,"labels":false,"ticks":false,"domain":false,"minExtent":0,"maxExtent":0,"gridColor":"#ececec","values":[0,0.05,0.1,0.15,0.2,0.25,0.3,0.35,0.4,0.45,0.5,0.55,0.6,0.65,0.7,0.75,0.8,0.85,0.9,0.95,1]}},
      "color":{"field":"s","type":"nominal","scale":{"domain":["a","v","n","c","d"],"range":["#a43cf2","#b01818","#2a2af5","#ff6b21","#111111"]},"legend":null}}}
   ]},
   {"width":183,"height":108,"title":{"text":"t = 60 days","anchor":"start","frame":"group","fontSize":9,"offset":5.5},
    "data":{"name":"d"},"transform":[{"filter":"datum.p == 4"}],
    "mark":{"type":"line","strokeWidth":1.3},
    "encoding":{
     "x":{"field":"x","type":"quantitative","scale":{"domain":[0,100]},"axis":{"title":null,"labels":false,"tickSize":2,"tickColor":"#c8c8c8","domainColor":"#c8c8c8","gridColor":"#ececec","minExtent":0,"maxExtent":3,"values":[0,6.25,12.5,18.75,25,31.25,37.5,43.75,50,56.25,62.5,68.75,75,81.25,87.5,93.75,100]}},
     "y":{"field":"y","type":"quantitative","scale":{"domain":[-0.045,1.015],"nice":false,"zero":false},"axis":{"title":null,"labels":false,"ticks":false,"domain":false,"minExtent":0,"maxExtent":0,"gridColor":"#ececec","values":[0,0.05,0.1,0.15,0.2,0.25,0.3,0.35,0.4,0.45,0.5,0.55,0.6,0.65,0.7,0.75,0.8,0.85,0.9,0.95,1]}},
     "color":{"field":"s","type":"nominal","scale":{"domain":["a","v","n","c","d"],"range":["#a43cf2","#b01818","#2a2af5","#ff6b21","#111111"]},"legend":null}}}
  ]},
  {"width":40,"height":105,"view":{"stroke":"#000","strokeWidth":1.5},
   "title":{"text":" ","fontSize":9,"offset":5.5},
   "data":{"name":"leg"},
   "encoding":{"y":{"field":"s","type":"nominal","sort":["a","v","n","c","d"],"scale":{"type":"point","padding":0.95},"axis":null}},
   "layer":[
    {"mark":{"type":"point","shape":"stroke","size":81,"strokeWidth":2.5,"opacity":1,"filled":false},
     "encoding":{"x":{"datum":7,"type":"quantitative","scale":{"domain":[0,40]},"axis":null},
      "color":{"field":"s","type":"nominal","scale":{"domain":["a","v","n","c","d"],"range":["#a43cf2","#b01818","#2a2af5","#ff6b21","#111111"]},"legend":null}}},
    {"transform":[{"filter":"datum.m == 'ϕ'"}],
     "mark":{"type":"text","align":"left","baseline":"middle","fontSize":16,"fontStyle":"italic","fontWeight":"bold","color":"#000"},
     "encoding":{"x":{"datum":13,"type":"quantitative","scale":{"domain":[0,40]},"axis":null},"text":{"field":"m"}}},
    {"transform":[{"filter":"datum.m != 'ϕ'"}],
     "mark":{"type":"text","align":"left","baseline":"middle","fontSize":16,"color":"#000"},
     "encoding":{"x":{"datum":14,"type":"quantitative","scale":{"domain":[0,40]},"axis":null},"text":{"field":"m"}}},
    {"transform":[{"filter":"datum.b != ''"}],
     "mark":{"type":"text","align":"left","baseline":"middle","fontSize":11,"fontStyle":"italic","dy":5,"color":"#000"},
     "encoding":{"x":{"datum":27,"type":"quantitative","scale":{"domain":[0,40]},"axis":null},"text":{"field":"b"}}}
   ]}
 ]},
{"title":{"text":"Case 2: low nutrient supply","anchor":"start","fontSize":13,"offset":9,"frame":"bounds","dx":20},
 "spacing":0,
 "hconcat":[
  {"spacing":4,"hconcat":[
   {"spacing":1,"hconcat":[
    {"width":183,"height":108,"title":{"text":"t = 2.5 days","anchor":"start","frame":"group","fontSize":9,"offset":5.5,"dx":-2},
     "data":{"name":"d"},"transform":[{"filter":"datum.p == 5"}],
     "mark":{"type":"line","strokeWidth":1.3},
     "encoding":{
      "x":{"field":"x","type":"quantitative","scale":{"domain":[0,100]},"axis":{"title":null,"labels":false,"tickSize":2,"tickColor":"#c8c8c8","domainColor":"#c8c8c8","gridColor":"#ececec","minExtent":0,"maxExtent":3,"values":[0,6.25,12.5,18.75,25,31.25,37.5,43.75,50,56.25,62.5,68.75,75,81.25,87.5,93.75,100]}},
      "y":{"field":"y","type":"quantitative","scale":{"domain":[-0.045,1.015],"nice":false,"zero":false},"axis":{"title":"Concentration","titleFontSize":13,"titleFontWeight":"normal","titleColor":"#111","titlePadding":2,"labelFontSize":6.5,"labelColor":"#555","labelPadding":1,"labelOverlap":false,"labelFlush":false,"ticks":false,"domain":false,"gridColor":"#ececec","values":[0,0.05,0.1,0.15,0.2,0.25,0.3,0.35,0.4,0.45,0.5,0.55,0.6,0.65,0.7,0.75,0.8,0.85,0.9,0.95,1],"labelExpr":"round(datum.value*100) % 10 == 0 ? format(datum.value, '.1~f') : ''"}},
      "color":{"field":"s","type":"nominal","scale":{"domain":["a","v","n","c","d"],"range":["#a43cf2","#b01818","#2a2af5","#ff6b21","#111111"]},"legend":null}}},
    {"width":183,"height":108,"title":{"text":"t = 10 days","anchor":"start","frame":"group","fontSize":9,"offset":5.5},
     "data":{"name":"d"},"transform":[{"filter":"datum.p == 6"}],
     "mark":{"type":"line","strokeWidth":1.3},
     "encoding":{
      "x":{"field":"x","type":"quantitative","scale":{"domain":[0,100]},"axis":{"title":null,"labels":false,"tickSize":2,"tickColor":"#c8c8c8","domainColor":"#c8c8c8","gridColor":"#ececec","minExtent":0,"maxExtent":3,"values":[0,6.25,12.5,18.75,25,31.25,37.5,43.75,50,56.25,62.5,68.75,75,81.25,87.5,93.75,100]}},
      "y":{"field":"y","type":"quantitative","scale":{"domain":[-0.045,1.015],"nice":false,"zero":false},"axis":{"title":null,"labels":false,"ticks":false,"domain":false,"minExtent":0,"maxExtent":0,"gridColor":"#ececec","values":[0,0.05,0.1,0.15,0.2,0.25,0.3,0.35,0.4,0.45,0.5,0.55,0.6,0.65,0.7,0.75,0.8,0.85,0.9,0.95,1]}},
      "color":{"field":"s","type":"nominal","scale":{"domain":["a","v","n","c","d"],"range":["#a43cf2","#b01818","#2a2af5","#ff6b21","#111111"]},"legend":null}}},
    {"width":183,"height":108,"title":{"text":"t = 30 days","anchor":"start","frame":"group","fontSize":9,"offset":5.5},
     "data":{"name":"d"},"transform":[{"filter":"datum.p == 7"}],
     "mark":{"type":"line","strokeWidth":1.3},
     "encoding":{
      "x":{"field":"x","type":"quantitative","scale":{"domain":[0,100]},"axis":{"title":null,"labels":false,"tickSize":2,"tickColor":"#c8c8c8","domainColor":"#c8c8c8","gridColor":"#ececec","minExtent":0,"maxExtent":3,"values":[0,6.25,12.5,18.75,25,31.25,37.5,43.75,50,56.25,62.5,68.75,75,81.25,87.5,93.75,100]}},
      "y":{"field":"y","type":"quantitative","scale":{"domain":[-0.045,1.015],"nice":false,"zero":false},"axis":{"title":null,"labels":false,"ticks":false,"domain":false,"minExtent":0,"maxExtent":0,"gridColor":"#ececec","values":[0,0.05,0.1,0.15,0.2,0.25,0.3,0.35,0.4,0.45,0.5,0.55,0.6,0.65,0.7,0.75,0.8,0.85,0.9,0.95,1]}},
      "color":{"field":"s","type":"nominal","scale":{"domain":["a","v","n","c","d"],"range":["#a43cf2","#b01818","#2a2af5","#ff6b21","#111111"]},"legend":null}}}
   ]},
   {"width":183,"height":108,"title":{"text":"t = 60 days","anchor":"start","frame":"group","fontSize":9,"offset":5.5},
    "data":{"name":"d"},"transform":[{"filter":"datum.p == 8"}],
    "mark":{"type":"line","strokeWidth":1.3},
    "encoding":{
     "x":{"field":"x","type":"quantitative","scale":{"domain":[0,100]},"axis":{"title":null,"labels":false,"tickSize":2,"tickColor":"#c8c8c8","domainColor":"#c8c8c8","gridColor":"#ececec","minExtent":0,"maxExtent":3,"values":[0,6.25,12.5,18.75,25,31.25,37.5,43.75,50,56.25,62.5,68.75,75,81.25,87.5,93.75,100]}},
     "y":{"field":"y","type":"quantitative","scale":{"domain":[-0.045,1.015],"nice":false,"zero":false},"axis":{"title":null,"labels":false,"ticks":false,"domain":false,"minExtent":0,"maxExtent":0,"gridColor":"#ececec","values":[0,0.05,0.1,0.15,0.2,0.25,0.3,0.35,0.4,0.45,0.5,0.55,0.6,0.65,0.7,0.75,0.8,0.85,0.9,0.95,1]}},
     "color":{"field":"s","type":"nominal","scale":{"domain":["a","v","n","c","d"],"range":["#a43cf2","#b01818","#2a2af5","#ff6b21","#111111"]},"legend":null}}}
  ]},
  {"width":40,"height":105,"view":{"stroke":"#000","strokeWidth":1.5},
   "title":{"text":" ","fontSize":9,"offset":5.5},
   "data":{"name":"leg"},
   "encoding":{"y":{"field":"s","type":"nominal","sort":["a","v","n","c","d"],"scale":{"type":"point","padding":0.95},"axis":null}},
   "layer":[
    {"mark":{"type":"point","shape":"stroke","size":81,"strokeWidth":2.5,"opacity":1,"filled":false},
     "encoding":{"x":{"datum":7,"type":"quantitative","scale":{"domain":[0,40]},"axis":null},
      "color":{"field":"s","type":"nominal","scale":{"domain":["a","v","n","c","d"],"range":["#a43cf2","#b01818","#2a2af5","#ff6b21","#111111"]},"legend":null}}},
    {"transform":[{"filter":"datum.m == 'ϕ'"}],
     "mark":{"type":"text","align":"left","baseline":"middle","fontSize":16,"fontStyle":"italic","fontWeight":"bold","color":"#000"},
     "encoding":{"x":{"datum":13,"type":"quantitative","scale":{"domain":[0,40]},"axis":null},"text":{"field":"m"}}},
    {"transform":[{"filter":"datum.m != 'ϕ'"}],
     "mark":{"type":"text","align":"left","baseline":"middle","fontSize":16,"color":"#000"},
     "encoding":{"x":{"datum":14,"type":"quantitative","scale":{"domain":[0,40]},"axis":null},"text":{"field":"m"}}},
    {"transform":[{"filter":"datum.b != ''"}],
     "mark":{"type":"text","align":"left","baseline":"middle","fontSize":11,"fontStyle":"italic","dy":5,"color":"#000"},
     "encoding":{"x":{"datum":27,"type":"quantitative","scale":{"domain":[0,40]},"axis":null},"text":{"field":"b"}}}
   ]}
 ]}
]
}
